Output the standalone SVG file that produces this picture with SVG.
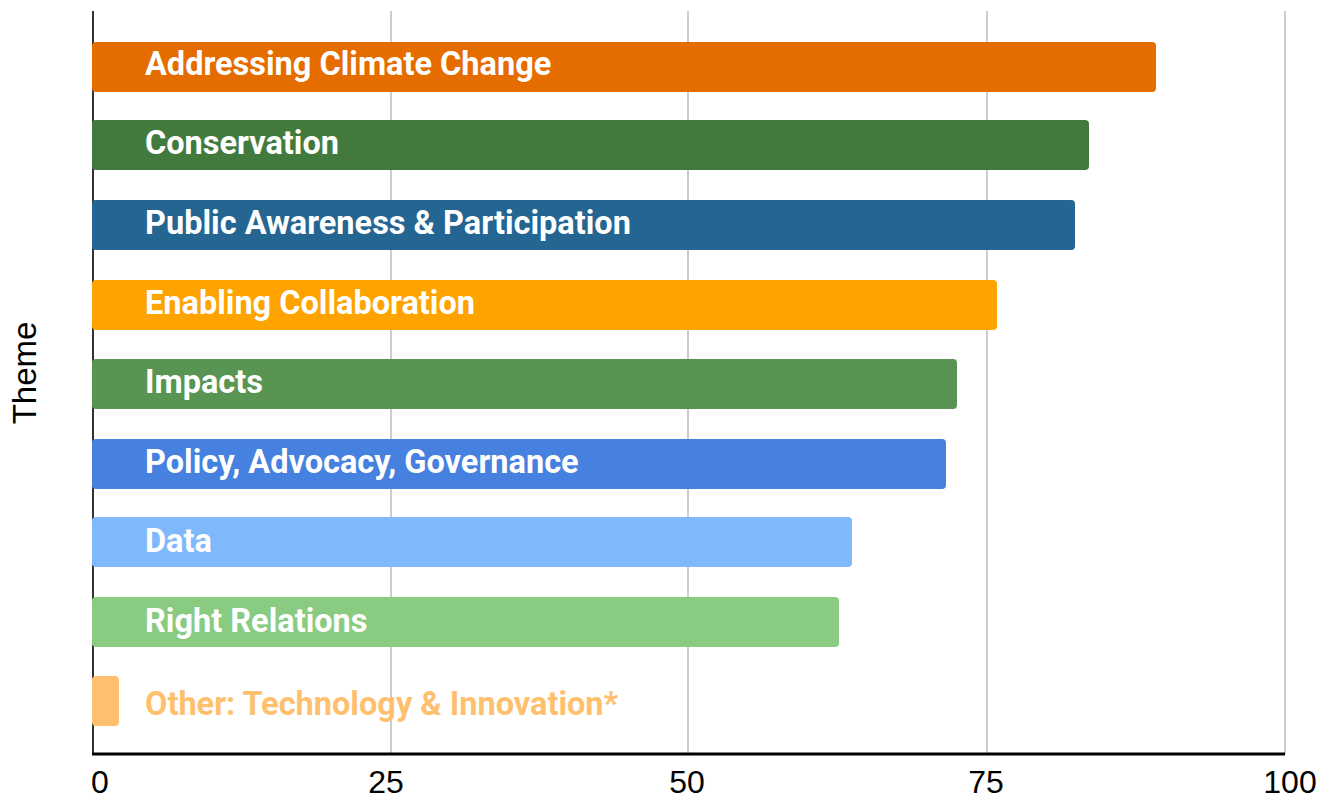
<svg xmlns="http://www.w3.org/2000/svg" width="1331" height="798" viewBox="0 0 1331 798">
<style>
.grid{stroke:#cccccc;stroke-width:2}
.lbl{font-family:Roboto,"Liberation Sans",sans-serif;font-weight:bold;font-size:32.5px;fill:#ffffff}
.tick{font-family:"Liberation Sans",Arial,sans-serif;font-size:32px;fill:#000000;text-anchor:middle}
</style>
<rect width="1331" height="798" fill="#ffffff"/>
<g id="gridlines">
<line class="grid" x1="391" y1="11" x2="391" y2="754"/>
<line class="grid" x1="688" y1="11" x2="688" y2="754"/>
<line class="grid" x1="987" y1="11" x2="987" y2="754"/>
<line class="grid" x1="1285" y1="11" x2="1285" y2="754"/>
</g>
<g id="axes">
<line x1="93" y1="11" x2="93" y2="754" stroke="#333333" stroke-width="2"/>
</g>
<g id="bar-addressing"><rect x="92" y="42" width="1064" height="50" rx="4" fill="#e56d00"/><text class="lbl" x="145" y="75">Addressing Climate Change</text></g>
<g id="bar-conservation"><rect x="92" y="120" width="997" height="50" rx="4" fill="#427a3d"/><text class="lbl" x="145" y="154">Conservation</text></g>
<g id="bar-public"><rect x="92" y="200" width="983" height="50" rx="4" fill="#246592"/><text class="lbl" x="145" y="234">Public Awareness &amp; Participation</text></g>
<g id="bar-enabling"><rect x="92" y="280" width="905" height="50" rx="4" fill="#ffa300"/><text class="lbl" x="145" y="314">Enabling Collaboration</text></g>
<g id="bar-impacts"><rect x="92" y="359" width="865" height="50" rx="4" fill="#589553"/><text class="lbl" x="145" y="393">Impacts</text></g>
<g id="bar-policy"><rect x="92" y="439" width="854" height="50" rx="4" fill="#4681e0"/><text class="lbl" x="145" y="473">Policy, Advocacy, Governance</text></g>
<g id="bar-data"><rect x="92" y="517" width="760" height="50" rx="4" fill="#80b9fb"/><text class="lbl" x="145" y="552">Data</text></g>
<g id="bar-right"><rect x="92" y="597" width="747" height="50" rx="4" fill="#8acb82"/><text class="lbl" x="145" y="632">Right Relations</text></g>
<g id="bar-other"><rect x="92" y="676" width="27" height="50" rx="4" fill="#ffc06e"/><text class="lbl" x="145" y="715" style="fill:#ffc06e">Other: Technology &amp; Innovation*</text></g>
<g id="x-axis">
<line x1="92" y1="754" x2="1285" y2="754" stroke="#000000" stroke-width="3"/>
<text class="tick" x="100" y="793">0</text>
<text class="tick" x="386" y="793">25</text>
<text class="tick" x="687" y="793">50</text>
<text class="tick" x="986" y="793">75</text>
<text class="tick" x="1290" y="793">100</text>
</g>
<g id="y-title"><text x="36" y="373" transform="rotate(-90 36 373)" text-anchor="middle" style="font-family:'Liberation Sans',Arial,sans-serif;font-size:33px;fill:#000000">Theme</text></g>
</svg>
